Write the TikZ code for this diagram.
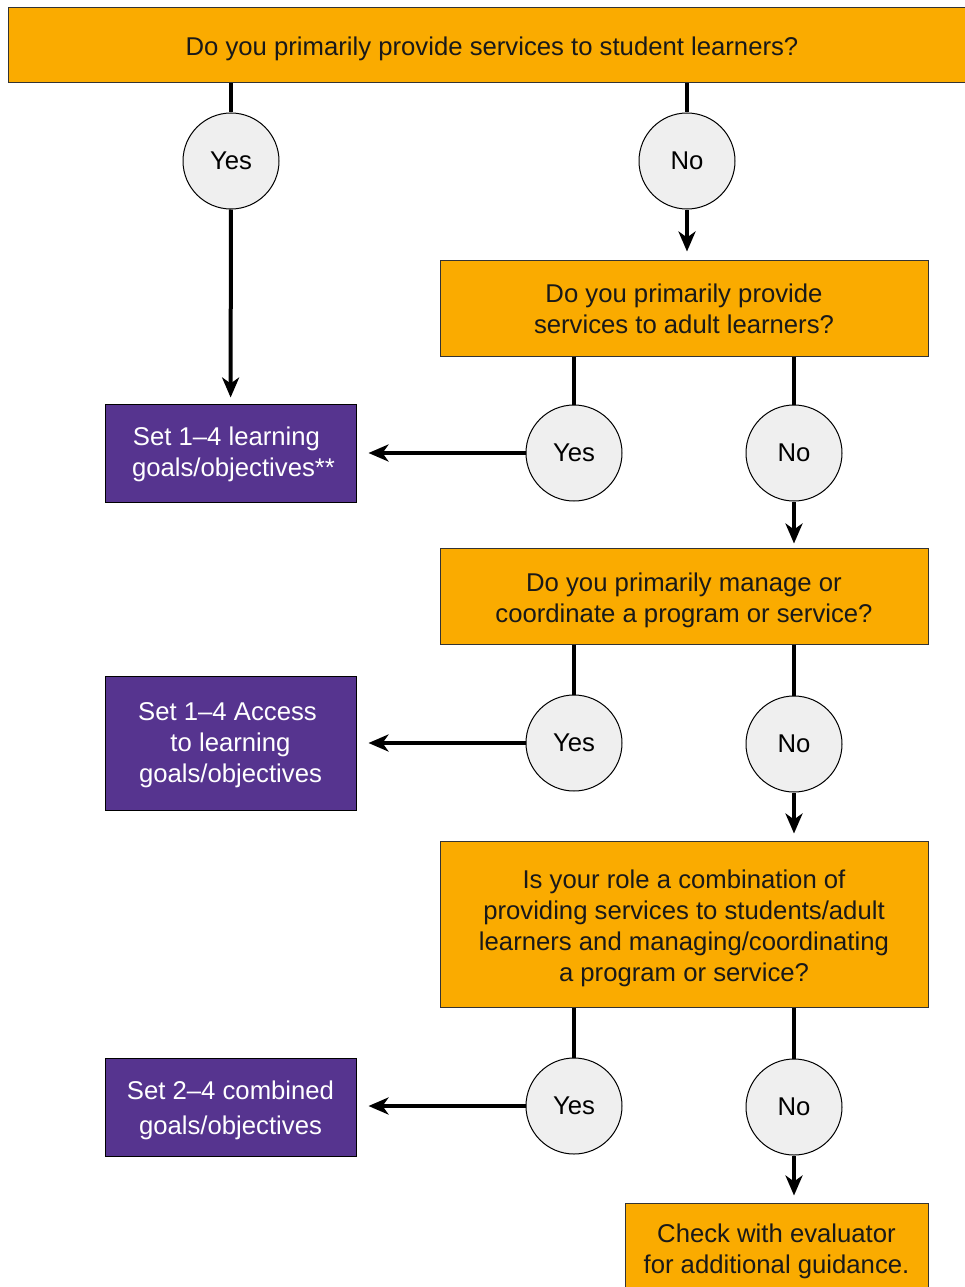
\documentclass[tikz,border=0pt]{standalone}
\usepackage{fontspec}
\setmainfont{Liberation Sans}
\usetikzlibrary{arrows.meta}
\definecolor{qorange}{HTML}{FAAB00}
\definecolor{qpurple}{HTML}{56348F}
\definecolor{qgray}{HTML}{EFEFEF}
\begin{document}
\begin{tikzpicture}[x=1pt,y=-1pt,
  question/.style={draw=black!80,line width=1pt,fill=qorange,inner sep=0pt},
  outcome/.style={draw=black,line width=1pt,fill=qpurple,inner sep=0pt,minimum width=251pt},
  qtext/.style={align=center,inner sep=0pt,text=black!90},
  otext/.style={align=center,inner sep=0pt,text=white},
  answer/.style={circle,draw=black,line width=1pt,fill=qgray,minimum size=96pt,inner sep=0pt},
  link/.style={line width=4pt},
  flow/.style={line width=4pt,-{Stealth[length=20pt,width=17pt,inset=6pt]}}]
\useasboundingbox (0,0) rectangle (965,1287);
\fontsize{25.7}{31}\selectfont

% questions
\node[question,minimum width=968pt,minimum height=75pt,
  label={[qtext,name=q1t,yshift=-3pt]center:{Do you primarily provide services to student learners?}}]
  (q1) at (492,45.5) {};
\node[question,minimum width=488pt,minimum height=96pt,
  label={[qtext,name=q2t,yshift=-1pt]center:{Do you primarily provide\\services to adult learners?}}]
  (q2) at (684,308) {};
\node[question,minimum width=488pt,minimum height=96pt,
  label={[qtext,name=q3t,yshift=-4pt]center:{Do you primarily manage or\\coordinate a program or service?}}]
  (q3) at (684,596) {};
\node[question,minimum width=488pt,minimum height=166pt,
  label={[qtext,name=q4t,yshift=-4pt]center:{Is your role a combination of\\providing services to students/adult\\learners and managing/coordinating\\a program or service?}}]
  (q4) at (684,924) {};
\node[question,minimum width=303pt,minimum height=94pt,
  label={[qtext,name=q5t,yshift=-1pt]center:{Check with evaluator\\for additional guidance.}}]
  (q5) at (776.5,1250) {};

% outcomes
\node[outcome,minimum height=98pt,
  label={[otext,name=o1t,yshift=-1pt]center:{Set 1--4 learning\hspace*{8pt}\\\hspace*{6pt}goals/objectives**}}]
  (o1) at (230.5,453) {};
\node[outcome,minimum height=134pt,
  label={[otext,name=o2t,yshift=-2pt]center:{Set 1--4 Access\hspace*{6pt}\\to learning\hspace*{2pt}\\goals/objectives}}]
  (o2) at (230.5,743) {};
\node[outcome,minimum height=98pt,
  label={[otext,name=o3t,yshift=-3pt,font=\fontsize{25.7}{35}\selectfont]center:{Set 2--4 combined\\goals/objectives}}]
  (o3) at (230.5,1107) {};

% answers
\node[answer] (y1) at (231,161) {Yes};
\node[answer] (n1) at (687,161) {No};
\node[answer] (y2) at (574,453) {Yes};
\node[answer] (n2) at (794,453) {No};
\node[answer] (y3) at (574,743) {Yes};
\node[answer] (n3) at (794,744) {No};
\node[answer] (y4) at (574,1106) {Yes};
\node[answer] (n4) at (794,1107) {No};

% connectors
\draw[link] (q1.south -| y1) -- (y1);
\draw[link] (q1.south -| n1) -- (n1);
\draw[flow,shorten >=6pt] (y1) -- (o1);
\draw[flow,shorten >=8pt] (n1) -- (q2.north -| n1);

\draw[link] (q2.south -| y2) -- (y2);
\draw[link] (q2.south -| n2) -- (n2);
\draw[flow,shorten >=12pt] (y2) -- (o1.east |- y2);
\draw[flow,shorten >=4pt] (n2) -- (q3.north -| n2);

\draw[link] (q3.south -| y3) -- (y3);
\draw[link] (q3.south -| n3) -- (n3);
\draw[flow,shorten >=12pt] (y3) -- (o2.east |- y3);
\draw[flow,shorten >=7pt] (n3) -- (q4.north -| n3);

\draw[link] (q4.south -| y4) -- (y4);
\draw[link] (q4.south -| n4) -- (n4);
\draw[flow,shorten >=12pt] (y4) -- (o3.east |- y4);
\draw[flow,shorten >=7pt] (n4) -- (q5.north -| n4);
\end{tikzpicture}
\end{document}
